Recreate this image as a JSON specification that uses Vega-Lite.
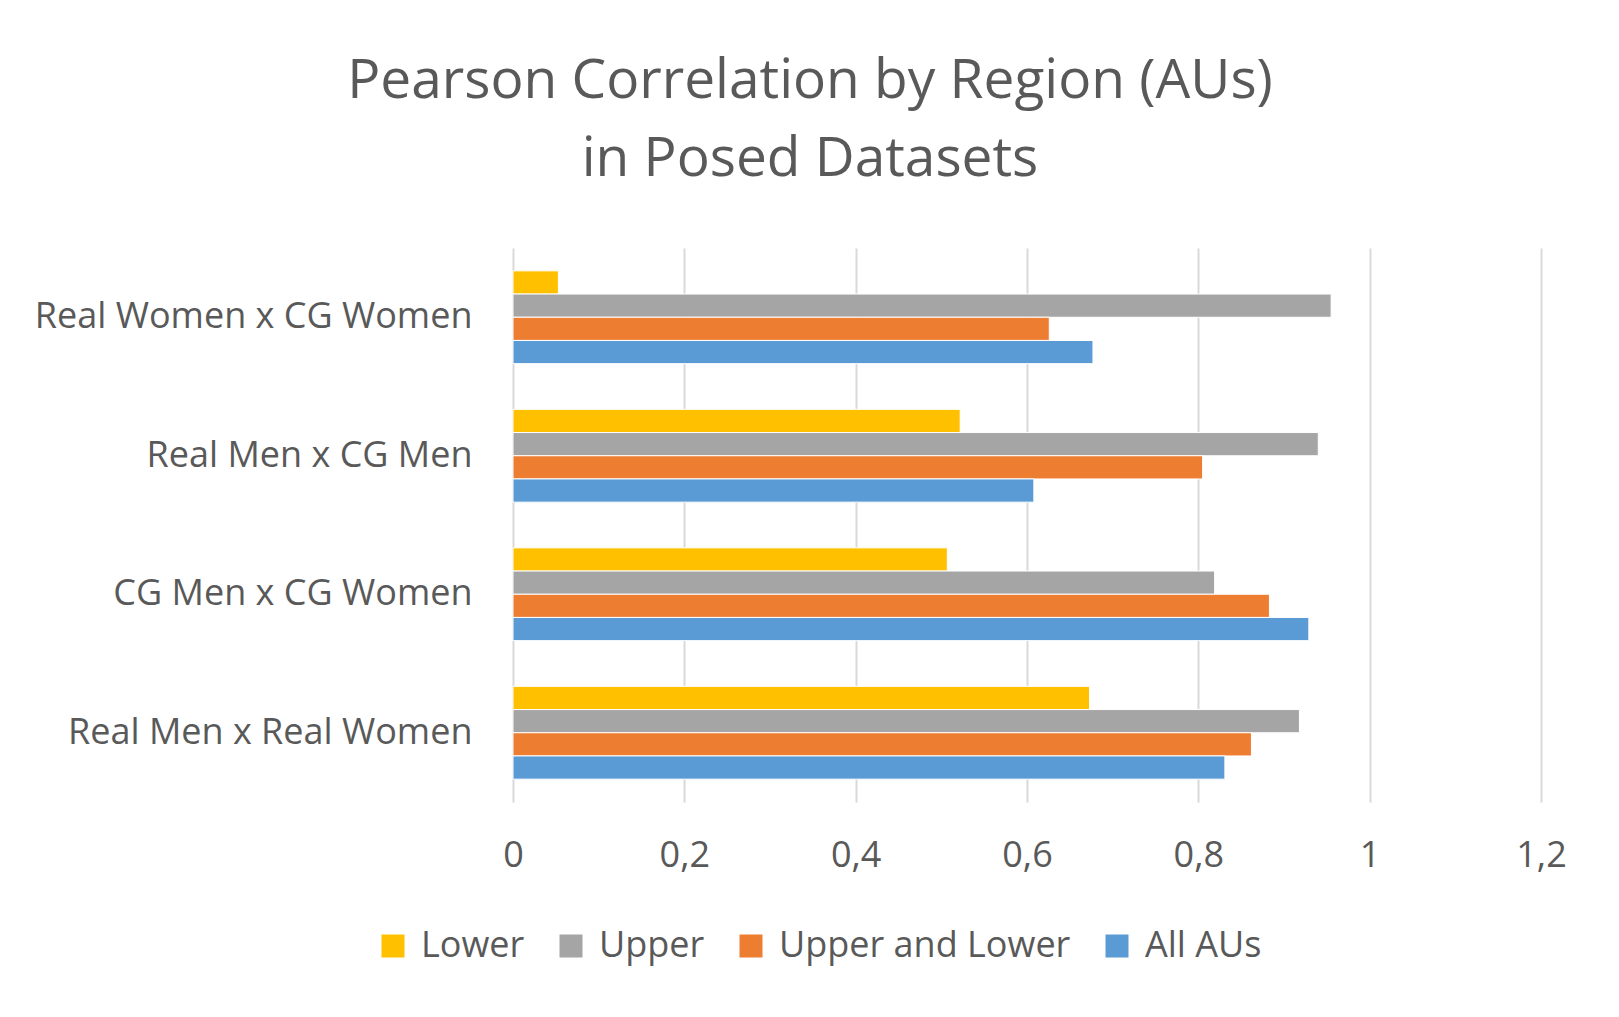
{
  "$schema": "https://vega.github.io/schema/vega-lite/v6.json",
  "autosize": {"type": "none"},
  "padding": {"left": 513, "top": 248, "right": 78, "bottom": 215},
  "width": 1028,
  "height": 554,
  "background": "white",
  "title": {
    "text": ["Pearson Correlation by Region (AUs)", "in Posed Datasets"],
    "anchor": "middle",
    "dx": -217,
    "offset": 60,
    "font": "Open Sans",
    "fontSize": 55,
    "fontWeight": "normal",
    "color": "#595959",
    "lineHeight": 78
  },
  "data": {
    "values": [
      {"pair": "Real Women x CG Women", "region": "Lower", "r": 0.053},
      {"pair": "Real Women x CG Women", "region": "Upper", "r": 0.955},
      {"pair": "Real Women x CG Women", "region": "Upper and Lower", "r": 0.626},
      {"pair": "Real Women x CG Women", "region": "All AUs", "r": 0.677},
      {"pair": "Real Men x CG Men", "region": "Lower", "r": 0.522},
      {"pair": "Real Men x CG Men", "region": "Upper", "r": 0.94},
      {"pair": "Real Men x CG Men", "region": "Upper and Lower", "r": 0.805},
      {"pair": "Real Men x CG Men", "region": "All AUs", "r": 0.608},
      {"pair": "CG Men x CG Women", "region": "Lower", "r": 0.507},
      {"pair": "CG Men x CG Women", "region": "Upper", "r": 0.819},
      {"pair": "CG Men x CG Women", "region": "Upper and Lower", "r": 0.883},
      {"pair": "CG Men x CG Women", "region": "All AUs", "r": 0.929},
      {"pair": "Real Men x Real Women", "region": "Lower", "r": 0.673},
      {"pair": "Real Men x Real Women", "region": "Upper", "r": 0.918},
      {"pair": "Real Men x Real Women", "region": "Upper and Lower", "r": 0.862},
      {"pair": "Real Men x Real Women", "region": "All AUs", "r": 0.831}
    ]
  },
  "mark": {"type": "bar", "stroke": "white", "strokeWidth": 1},
  "encoding": {
    "y": {
      "field": "pair",
      "type": "nominal",
      "sort": ["Real Women x CG Women", "Real Men x CG Men", "CG Men x CG Women", "Real Men x Real Women"],
      "scale": {"paddingInner": 0.33, "paddingOuter": 0.165},
      "axis": {
        "title": null,
        "domain": false,
        "ticks": false,
        "grid": false,
        "labelFont": "Open Sans",
        "labelFontSize": 36,
        "labelColor": "#595959",
        "labelPadding": 41,
        "labelLimit": 700
      }
    },
    "yOffset": {
      "field": "region",
      "type": "nominal",
      "sort": ["Lower", "Upper", "Upper and Lower", "All AUs"],
      "scale": {"paddingInner": 0, "paddingOuter": 0}
    },
    "x": {
      "field": "r",
      "type": "quantitative",
      "scale": {"domain": [0, 1.2], "nice": false},
      "axis": {
        "title": null,
        "values": [0, 0.2, 0.4, 0.6, 0.8, 1, 1.2],
        "labelExpr": "replace(format(datum.value, '~g'), '.', ',')",
        "labelFlush": false,
        "domain": false,
        "ticks": false,
        "grid": true,
        "gridColor": "#d9d9d9",
        "gridWidth": 2,
        "labelFont": "Open Sans",
        "labelFontSize": 36,
        "labelColor": "#595959",
        "labelPadding": 36
      }
    },
    "color": {
      "field": "region",
      "type": "nominal",
      "sort": ["Lower", "Upper", "Upper and Lower", "All AUs"],
      "scale": {
        "domain": ["Lower", "Upper", "Upper and Lower", "All AUs"],
        "range": ["#FFC000", "#A5A5A5", "#ED7D31", "#5B9BD5"]
      },
      "legend": {
        "title": null,
        "orient": "none",
        "direction": "horizontal",
        "legendX": -138,
        "legendY": 680,
        "symbolType": "square",
        "symbolSize": 529,
        "symbolStrokeWidth": 0,
        "labelFont": "Open Sans",
        "labelFontSize": 36,
        "labelColor": "#595959",
        "labelOffset": 10,
        "labelLimit": 500,
        "columnPadding": 28
      }
    }
  },
  "config": {
    "view": {"stroke": null}
  }
}
